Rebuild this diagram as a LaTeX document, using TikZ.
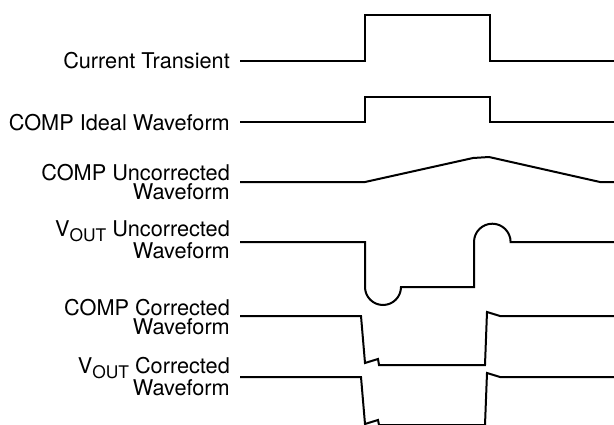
\documentclass[tikz,border=0pt]{standalone}
\usepackage{fontspec}
\setmainfont{TeX Gyre Heros}
\newcommand{\Vout}{V\raisebox{-0.24em}{\fontsize{17.4}{17.4}\selectfont OUT}}
\begin{document}
\begin{tikzpicture}[x=1pt, y=-1pt,
  wave/.style={line width=2pt, line join=miter},
  lbl/.style={anchor=base east, align=right, inner sep=0pt, font=\fontsize{21.7}{19.5}\selectfont}]
\useasboundingbox (0,0) rectangle (614,424);
% labels
\node[lbl] (ct) at (230,68.5) {Current Transient};
\node[lbl] (ideal) at (230,130) {COMP Ideal Waveform};
\node[lbl] (uncorr) at (230,199.5) {COMP Uncorrected\\Waveform};
\node[lbl] (voutu) at (230,258.5) {\Vout{} Uncorrected\\Waveform};
\node[lbl] (corr) at (230,334.5) {COMP Corrected\\Waveform};
\node[lbl] (voutc) at (230,395.5) {\Vout{} Corrected\\Waveform};
% waveforms
\draw[wave] (240,61) -- (365,61) -- (365,15) -- (490,15) -- (490,61) -- (614,61);
\draw[wave] (240,122) -- (365,122) -- (365,97) -- (490,97) -- (490,122) -- (614,122);
\draw[wave] (240,182) -- (365,182) -- (473,158) -- (489,157) -- (600,182) -- (614,182);
\draw[wave] (240,242) -- (365,242) -- (365,287) arc (180:0:18) -- (474,287) -- (474,242) arc (180:360:18.3) -- (614,242);
\draw[wave] (240,316) -- (361,316) -- (365,363) -- (378,359) -- (379,365) -- (485,365) -- (487,312) -- (500,316) -- (614,316);
\draw[wave] (240,377) -- (361,377) -- (365,424) -- (378,420) -- (379,425) -- (485,425) -- (487,373) -- (500,377) -- (614,377);
\end{tikzpicture}
\end{document}
